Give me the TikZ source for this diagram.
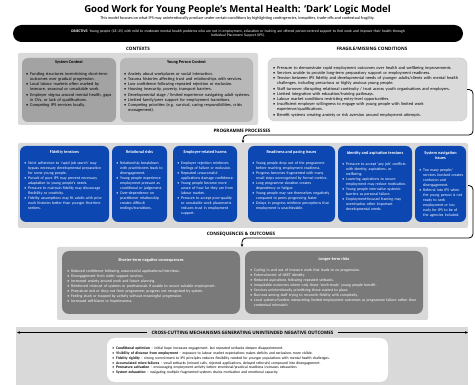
\documentclass[tikz,border=0pt]{standalone}
\usepackage{fontspec}
\setmainfont{Carlito}
\newfontfamily\titlefont{Open Sans}
\usepackage{enumitem}
\usetikzlibrary{arrows.meta}
\definecolor{panelgray}{HTML}{D9D9D9}
\definecolor{ctxdark}{HTML}{A3A3A3}
\definecolor{ctxlight}{HTML}{B8B8B8}
\definecolor{fragfill}{HTML}{DADADA}
\definecolor{fragline}{HTML}{C4C4C4}
\definecolor{progblue}{HTML}{0C47B2}
\definecolor{consgray}{HTML}{7A7A7A}
\newenvironment{blist}{\begin{itemize}[nosep,leftmargin=5pt,labelsep=2pt,label={\textbullet}]}{\end{itemize}}
\newcommand{\fsbody}{\fontsize{4.35}{5.2}\selectfont}
\newcommand{\fsprog}{\fontsize{3.9}{5}\selectfont}
\newcommand{\fshead}{\fontsize{4.3}{5.2}\selectfont\bfseries}
\begin{document}
\begin{tikzpicture}[x=1pt,y=-1pt,
  boxst/.style={inner sep=0pt, anchor=north west, outer sep=0pt},
  panel/.style={boxst, fill=panelgray, rounded corners=2pt},
  ctxbox/.style={boxst, rounded corners=6pt},
  bluebox/.style={boxst, fill=progblue, rounded corners=6pt},
  consbox/.style={boxst, fill=consgray, rounded corners=7pt},
  sectlabel/.style={font=\titlefont\bfseries\fontsize{4.6}{5.5}\selectfont, inner sep=0pt},
  heading/.style={font=\fshead, inner sep=0pt, align=center},
  btext/.style={font=\fsbody, inner sep=0pt, anchor=north west, align=left},
  ptext/.style={font=\fsprog, inner sep=0pt, anchor=north west, align=left, text=white},
  conn/.style={draw=black, line width=0.8pt, rounded corners=4pt},
  tip/.style={-{Stealth[length=3pt,width=2.6pt]}}
]
\path[use as bounding box, fill=white] (0,0) rectangle (475,385);

% title
\node[font=\titlefont\bfseries\fontsize{9.6}{12}\selectfont, inner sep=0pt] (title) at (237.5,10) {Good Work for Young People’s Mental Health: ‘Dark’ Logic Model};
\node[font=\fontsize{4.2}{5}\selectfont, inner sep=0pt] (subtitle) at (237.5,18.5) {This model focuses on what IPS may unintentionally produce under certain conditions by highlighting contingencies, inequities, trade-offs and contextual fragility.};

% objective
\node[boxst, fill=black, rounded corners=8.5pt, minimum width=450pt, minimum height=17pt] (objbox) at (13,25) {};
\node[font=\fontsize{3.7}{4.7}\selectfont, text=white, text width=436pt, align=center, inner sep=0pt] (objtext) at (238,33.5) {\textbf{OBJECTIVE:} Young people (18–25) with mild to moderate mental health problems who are not in employment, education or training are offered person-centred support to find work and improve their health through\\ Individual Placement Support (IPS).};

% contexts
\node[sectlabel] (ctxlabel) at (138,49) {CONTEXTS};
\node[sectlabel] (fraglabel) at (372,49) {FRAGILE/MISSING CONDITIONS};
\node[panel, minimum width=240pt, minimum height=72pt] (ctxpanel) at (18,53) {};
\node[ctxbox, fill=ctxdark, minimum width=94pt, minimum height=64pt] (sysbox) at (22,58) {};
\node[ctxbox, fill=ctxlight, minimum width=133pt, minimum height=64pt] (ypbox) at (120,58) {};
\node[heading] (sysH) at (69,62.5) {System Context};
\node[heading] (ypH) at (186.5,62.5) {Young Person Context};
\node[btext, text width=88pt] (sysT) at (25,70) {\begin{blist}
\item Funding structures incentivising short-term outcomes over gradual progression.
\item Local labour markets often marked by insecure, seasonal or unsuitable work.
\item Employer stigma around mental health, gaps in CVs, or lack of qualifications.
\item Competing IPS services locally.
\end{blist}};
\node[btext, text width=129pt] (ypT) at (123,70) {\begin{blist}
\item Anxiety about workplaces or social interaction.
\item Trauma histories affecting trust and relationships with services.
\item Low confidence following repeated rejection or exclusion.
\item Housing insecurity, poverty, transport barriers.
\item Developmental stage / limited experience navigating adult systems.
\item Limited family/peer support for employment transitions.
\item Competing priorities (e.g. survival, caring responsibilities, crisis management).
\end{blist}};

% fragile
\node[boxst, fill=fragfill, draw=fragline, line width=0.4pt, rounded corners=7pt, minimum width=199pt, minimum height=63pt] (fragbox) at (268,58) {};
\node[btext, text width=192pt] (fragT) at (272,64) {\begin{blist}
\item Pressure to demonstrate rapid employment outcomes over health and wellbeing improvements.
\item Services unable to provide long-term preparatory support or employment readiness.
\item Tension between IPS fidelity and developmental needs of younger adults/clients with mental health challenges, including precarious or highly anxious young people.
\item Staff turnover disrupting relational continuity / trust across youth organisations and employers.
\item Limited integration with education/training pathways.
\item Labour market conditions restricting entry-level opportunities.
\item Insufficient employer willingness to engage with young people with limited work experience/qualifications.
\item Benefit systems creating anxiety or risk aversion around employment attempts.
\end{blist}};

% programme processes
\node[sectlabel] (proglabel) at (242,131) {PROGRAMME PROCESSES};
\node[panel, minimum width=450pt, minimum height=85pt] (progpanel) at (18,143) {};
\node[bluebox, minimum width=89pt, minimum height=76pt] (fidbox) at (20,146) {};
\node[bluebox, minimum width=55pt, minimum height=76pt] (relbox) at (112,146) {};
\node[bluebox, minimum width=64pt, minimum height=76pt] (empbox) at (173,146) {};
\node[bluebox, minimum width=87pt, minimum height=76pt] (readbox) at (248,146) {};
\node[bluebox, minimum width=74pt, minimum height=76pt] (idbox) at (338,146) {};
\node[bluebox, minimum width=51pt, minimum height=76pt] (navbox) at (415,146) {};

\node[heading, text=white] (fidH) at (64.5,152) {Fidelity tensions};
\node[heading, text=white] (relH) at (139.5,152) {Relational risks};
\node[heading, text=white] (empH) at (205,152) {Employer-related harms};
\node[heading, text=white] (readH) at (291.5,152) {Readiness and pacing issues};
\node[heading, text=white] (idH) at (375,153) {Identity and aspiration tensions};
\node[heading, text=white] (navH) at (440.5,155.5) {System navigation\\issues};

\node[ptext, text width=82pt] (fidT) at (23,159.5) {\begin{blist}
\item Strict adherence to ‘rapid job search’ may bypass necessary developmental preparation for some young people.
\item Pursuit of pure IPS may prevent necessary adaptation to young people’s needs.
\item Pressure to maintain fidelity may discourage flexibility or creativity.
\item Fidelity assumptions may fit adults with prior work histories better than younger first-time seekers.
\end{blist}};
\node[ptext, text width=49pt] (relT) at (115,159.5) {\begin{blist}
\item Relationship breakdown with practitioners leads to disengagement.
\item Young people experience employment pressure as conditional or judgement.
\item Over-dependence on practitioner relationship creates difficult endings/transitions.
\end{blist}};
\node[ptext, text width=58pt] (empT) at (176,159.5) {\begin{blist}
\item Employer rejection reinforces feelings of failure or exclusion.
\item Repeated unsuccessful applications damage confidence.
\item Young people become more aware of how far they are from labour market.
\item Pressure to accept poor-quality or unsuitable work placements reduces trust in employment support.
\end{blist}};
\node[ptext, text width=80pt] (readT) at (251,159.5) {\begin{blist}
\item Young people drop out of the programme before reaching employment readiness.
\item Progress becomes fragmented with many small steps unrecognised by formal metrics.
\item Long programme duration creates dependency or fatigue.
\item Young people may see themselves negatively compared to peers progressing faster.
\item Delays in progress reinforce perceptions that employment is unachievable.
\end{blist}};
\node[ptext, text width=67pt] (idT) at (341,160.5) {\begin{blist}
\item Pressure to accept ‘any job’ conflicts with identity, aspirations, or wellbeing.
\item Lowering aspirations to secure employment may reduce motivation.
\item Young people internalise systemic barriers as personal failure.
\item Employment-focused framing may overshadow other important developmental needs.
\end{blist}};
\node[ptext, text width=45pt] (navT) at (418,166.5) {\begin{blist}
\item Too many people/ services involved creates confusion and disengagement.
\item Referral into IPS when the young person is not ready to seek employment or too early for IPS to be of the agencies included.
\end{blist}};

% connector fragile -> programme
\coordinate (c1a) at (473,135);
\coordinate (c1b) at (243,135);
\draw[conn, tip] (fragbox.east) -| (c1a) -- (c1b) -- (c1b |- progpanel.north);

% consequences
\node[sectlabel] (conslabel) at (241,234) {CONSEQUENCES \& OUTCOMES};
\coordinate (c2a) at (473,238);
\coordinate (c2b) at (242,238);
\node[panel, minimum width=371pt, minimum height=73pt] (conspanel) at (57,247) {};
\draw[conn, tip] (progpanel.east) -| (c2a) -- (c2b) -- (c2b |- conspanel.north);
\node[consbox, minimum width=178pt, minimum height=63pt] (shortbox) at (62,251) {};
\node[consbox, minimum width=178pt, minimum height=63pt] (longbox) at (245,251) {};
\node[heading, text=white] (shortH) at (151,260) {Shorter-term negative consequences};
\node[heading, text=white] (longH) at (334,259.5) {Longer-term risks};
\node[ptext, text width=170pt] (shortT) at (66,267) {\begin{blist}
\item Reduced confidence following unsuccessful applications/interviews.
\item Disengagement from wider support services.
\item Increased anxiety around work and future planning.
\item Reinforced mistrust of systems or professionals if unable to secure suitable employment.
\item Premature exit or drop out from programme; progress not recognised by system.
\item Feeling stuck or trapped by activity without meaningful progression.
\item Increased self-blame or hopelessness.
\end{blist}};
\node[ptext, text width=170pt] (longT) at (249,266.5) {\begin{blist}
\item Cycling in and out of insecure work that leads to no progression.
\item Entrenchment of NEET identity.
\item Reduced aspirations following repeated setbacks.
\item Inequitable outcomes where only those ‘work-ready’ young people benefit.
\item Services unintentionally prioritising those easiest to place.
\item Burnout among staff trying to reconcile fidelity with complexity.
\item Local systems/funders interpreting limited employment outcomes as programme failure rather than contextual mismatch.
\end{blist}};

% cross-cutting
\node[boxst, fill=panelgray, minimum width=452pt, minimum height=58pt] (crosspanel) at (16,327) {};
\node[sectlabel, fill=panelgray, inner xsep=4pt] (crossT) at (242.5,332.5) {CROSS-CUTTING MECHANISMS GENERATING UNINTENDED NEGATIVE OUTCOMES};
\coordinate (xl) at (17,332.5);
\coordinate (xr) at (468,332.5);
\draw[line width=0.6pt, tip] (crossT.west) -- (xl);
\draw[line width=0.6pt, tip] (crossT.east) -- (xr);
\node[boxst, fill=white, rounded corners=8pt, minimum width=281pt, minimum height=44pt] (crossbox) at (107,338) {};
\node[btext, font=\fontsize{3.75}{4.75}\selectfont, text width=272pt] (crossL) at (111,345) {\begin{blist}
\item \textbf{Conditional optimism} – initial hope increases engagement, but repeated setbacks deepen disappointment.
\item \textbf{Visibility of distance from employment} – exposure to labour market expectations makes deficits and exclusions more visible.
\item \textbf{Fidelity rigidity} – strong commitment to IPS principles reduces flexibility needed for younger populations with mental health challenges.
\item \textbf{Accumulated micro-failures} – small setbacks (missed calls, rejected applications, delayed referrals) compound into disengagement.
\item \textbf{Premature activation} – encouraging employment activity before emotional/practical readiness increases exhaustion.
\item \textbf{System exhaustion} – navigating multiple fragmented systems drains motivation and emotional capacity.
\end{blist}};
\end{tikzpicture}
\end{document}
